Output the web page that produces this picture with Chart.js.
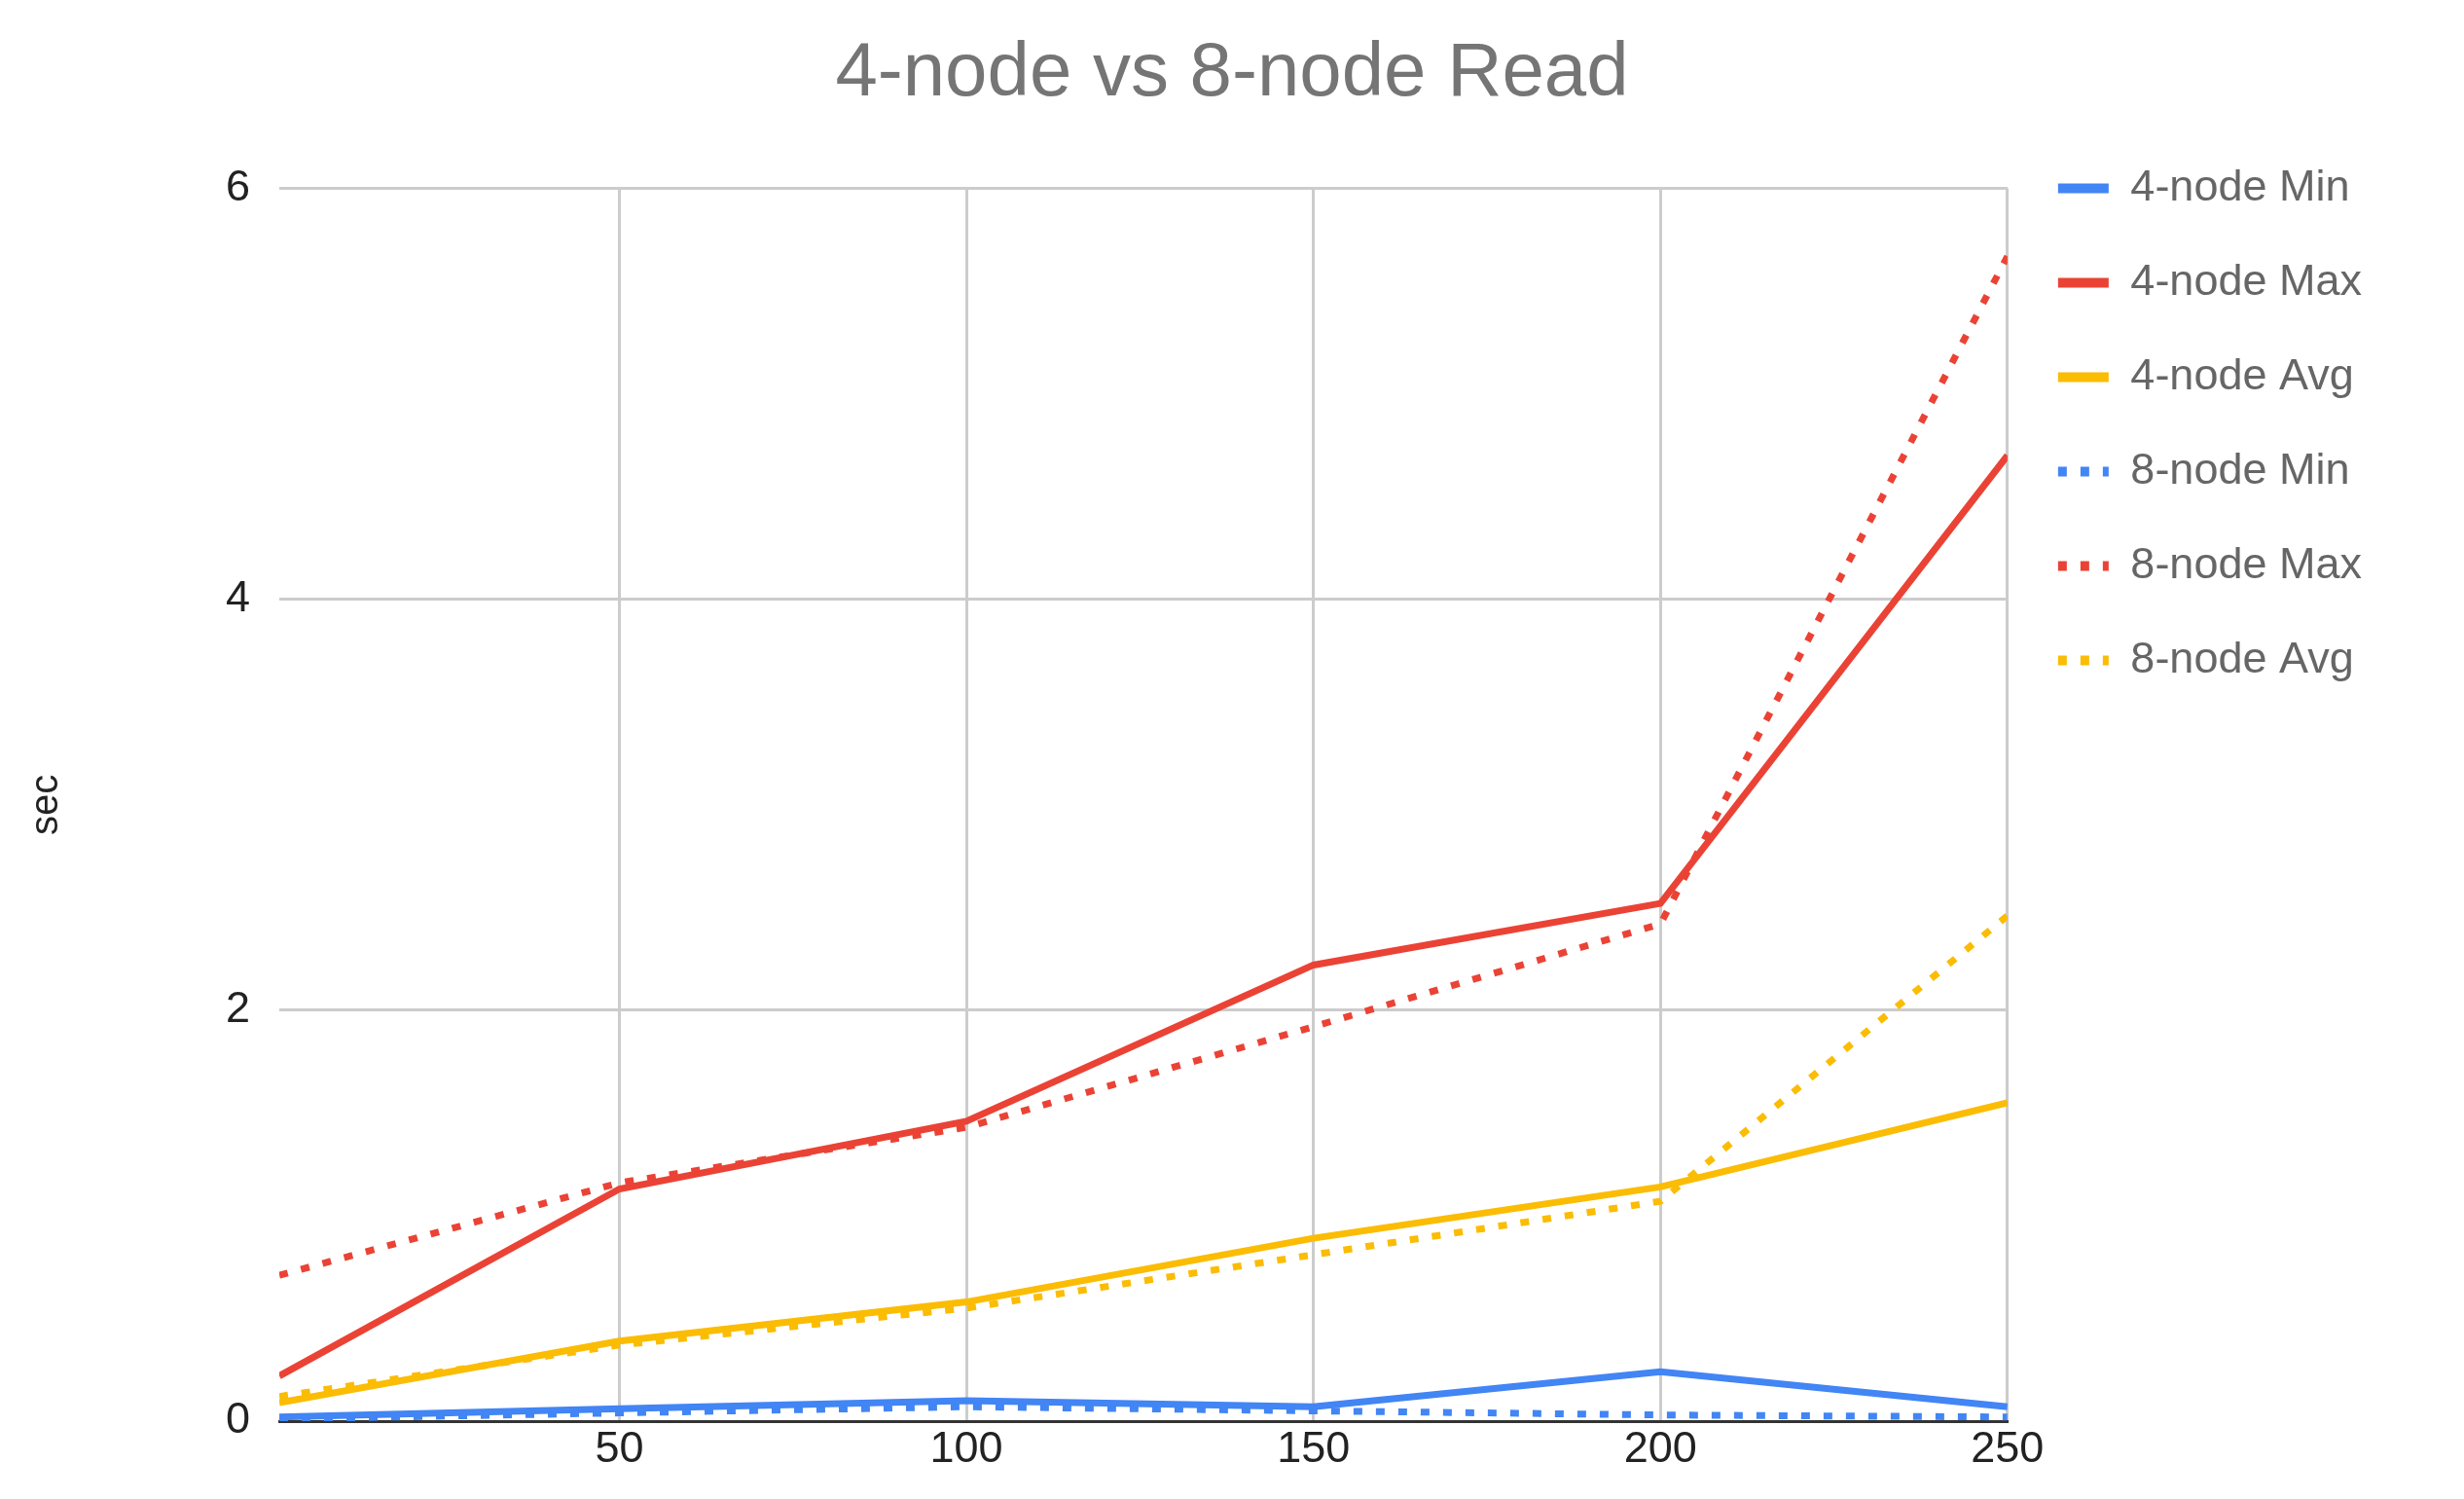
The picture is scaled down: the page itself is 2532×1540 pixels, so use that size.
<!DOCTYPE html>
<html><head><meta charset="utf-8">
<script src="https://cdn.jsdelivr.net/npm/chart.js@4"></script>
<style>body{margin:0;background:#fff}#wrap{width:2532px;height:1540px}</style>
</head><body><div id="wrap"><canvas id="c"></canvas></div>
<script>
const xs = [1, 50, 100, 150, 200, 250];
const xTicks = [50, 100, 150, 200, 250];
const min4 = [0.02, 0.06, 0.10, 0.07, 0.24, 0.07];
const max4 = [0.22, 1.13, 1.46, 2.22, 2.52, 4.70];
const avg4 = [0.09, 0.39, 0.58, 0.89, 1.14, 1.55];
const min8 = [0.01, 0.04, 0.07, 0.05, 0.03, 0.02];
const max8 = [0.71, 1.16, 1.43, 1.92, 2.42, 5.67];
const avg8 = [0.12, 0.37, 0.55, 0.81, 1.07, 2.46];

const dots = [9, 14];
function ds(label, vals, color, dotted) {
    return {
        label: label,
        data: xs.map((x, i) => ({x: x, y: vals[i]})),
        borderColor: color,
        backgroundColor: color,
        borderWidth: 7,
        borderDash: dotted ? dots : [],
        pointRadius: 0,
        tension: 0
    };
}

new Chart(document.getElementById("c"), {
    type: "line",
    data: {
        datasets: [
            ds("4-node Min", min4, "#4285f4", false),
            ds("4-node Max", max4, "#ea4335", false),
            ds("4-node Avg", avg4, "#fbbc04", false),
            ds("8-node Min", min8, "#4285f4", true),
            ds("8-node Max", max8, "#ea4335", true),
            ds("8-node Avg", avg8, "#fbbc04", true)
        ]
    },
    options: {
        responsive: true,
        maintainAspectRatio: false,
        animation: false,
        layout: {padding: {top: 20, left: 20, right: 20, bottom: 20}},
        plugins: {
            title: {
                display: true,
                text: "4-node vs 8-node Read",
                color: "#757575",
                font: {family: "Arial, Liberation Sans", size: 78, weight: "normal"},
                padding: {top: 10, bottom: 70}
            },
            legend: {
                position: "right",
                align: "start",
                title: {display: true, text: " ", font: {size: 45}, padding: {top: 45}},
                labels: {
                    color: "#222",
                    font: {family: "Arial, Liberation Sans", size: 45},
                    usePointStyle: true,
                    pointStyleWidth: 52,
                    boxHeight: 30,
                    padding: 52,
                    generateLabels: chart => chart.data.datasets.map((d, i) => ({
                        text: d.label + "      ",
                        strokeStyle: d.borderColor,
                        fillStyle: d.borderColor,
                        lineWidth: 10,
                        lineDash: d.borderDash,
                        pointStyle: "line",
                        datasetIndex: i
                    }))
                }
            }
        },
        scales: {
            x: {
                type: "linear",
                min: 1,
                max: 250,
                afterBuildTicks: axis => { axis.ticks = xTicks.map(v => ({value: v})); },
                ticks: {
                    color: "#222",
                    font: {family: "Arial, Liberation Sans", size: 45}
                },
                grid: {color: "#cccccc", lineWidth: 3, drawTicks: false},
                border: {color: "#333", width: 3}
            },
            y: {
                min: 0,
                max: 6,
                ticks: {
                    stepSize: 2,
                    color: "#222",
                    padding: 30,
                    font: {family: "Arial, Liberation Sans", size: 45}
                },
                grid: {color: "#cccccc", lineWidth: 3, drawTicks: false},
                border: {display: false},
                title: {
                    display: true,
                    text: "sec",
                    color: "#222",
                    font: {family: "Arial, Liberation Sans", size: 40},
                    padding: {bottom: 130}
                }
            }
        }
    }
});
</script></body></html>
